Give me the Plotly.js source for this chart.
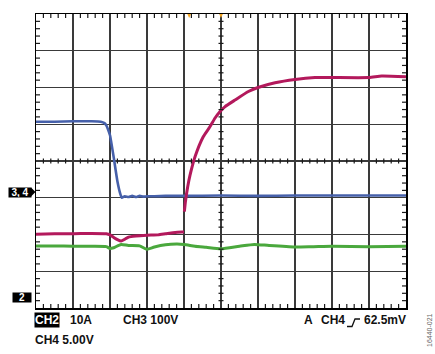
<!DOCTYPE html>
<html>
<head>
<meta charset="utf-8">
<script src="https://cdn.plot.ly/plotly-3.0.1.min.js"></script>
<style>html,body{margin:0;padding:0;background:#fff;}#chart{width:435px;height:354px;}</style>
</head>
<body>
<div id="chart"></div>
<script>
// ---- data (time and level in screen divisions) ----
const blueT = [0, 0.5, 1.0, 1.5, 1.75, 1.85, 1.9, 1.95, 2.0, 2.1, 2.2, 2.28, 2.32, 2.4, 2.5, 2.6, 2.7, 2.8, 2.9, 3.0, 3.2, 3.5, 4.0, 5.0, 6.0, 7.0, 8.0, 9.0, 10.0];
const blueV = [5.07, 5.07, 5.08, 5.08, 5.07, 5.03, 4.97, 4.85, 4.7, 4.1, 3.45, 3.1, 3.0, 3.04, 3.02, 3.05, 3.02, 3.05, 3.03, 3.04, 3.04, 3.05, 3.05, 3.06, 3.05, 3.06, 3.06, 3.06, 3.06];

const redT = [0, 0.5, 1.0, 1.5, 1.9, 2.0, 2.1, 2.2, 2.3, 2.4, 2.5, 2.7, 3.0, 3.3, 3.5, 3.7, 3.95, 4.0, null, 4.01, 4.04, 4.1, 4.16, 4.3, 4.52, 4.7, 4.84, 4.97, 5.11, 5.38, 5.74, 6.0, 6.46, 7.0, 7.54, 8.0, 9.0, 9.34, 10.0];
const redV = [2.01, 2.02, 2.02, 2.03, 2.02, 1.99, 1.92, 1.86, 1.82, 1.87, 1.93, 1.96, 1.98, 1.99, 2.02, 2.05, 2.07, 2.07, null, 2.62, 2.9, 3.3, 3.6, 4.12, 4.66, 4.93, 5.17, 5.34, 5.48, 5.66, 5.89, 6.0, 6.13, 6.22, 6.27, 6.27, 6.27, 6.31, 6.29];

const greenT = [0, 0.5, 1.0, 1.5, 1.9, 2.0, 2.1, 2.3, 2.5, 2.8, 3.0, 3.2, 3.5, 3.8, 4.0, 4.3, 4.6, 5.0, 5.5, 5.9, 6.3, 7.0, 7.5, 8.0, 9.0, 10.0];
const greenV = [1.69, 1.69, 1.68, 1.68, 1.67, 1.62, 1.64, 1.73, 1.70, 1.69, 1.60, 1.66, 1.72, 1.74, 1.73, 1.68, 1.65, 1.61, 1.68, 1.73, 1.70, 1.66, 1.67, 1.68, 1.67, 1.68];

const chLabels = ["CH2", "10A", "CH3 100V", "CH4 5.00V"];
const trigLabels = ["A", "CH4", "62.5mV"];
const markerLabels = ["3, 4", "2"];
const figId = "16440-021";

// ---- screen graticule (10 x 8 divisions, 5 subdivisions each) ----
const XDIV = 10, YDIV = 8, SUB = 5;
const TICK = '#1a1a1a';
const tickShapes = [];
[[YDIV, -4, 0], [YDIV / 2, -2.5, 2.5], [0, 0, 4]].forEach(([lvl, a, b]) => {
  for (let i = 1; i < XDIV * SUB; i++) {
    if (i % SUB === 0) continue;
    tickShapes.push({type: 'line', xref: 'x', yref: 'y', ysizemode: 'pixel', yanchor: lvl,
      x0: i / SUB, x1: i / SUB, y0: a, y1: b, line: {color: TICK, width: 1.2}, layer: 'above'});
  }
});
[[0, 0, 4], [XDIV / 2, -2.5, 2.5], [XDIV, -4, 0]].forEach(([lvl, a, b]) => {
  for (let i = 1; i < YDIV * SUB; i++) {
    if (i % SUB === 0) continue;
    tickShapes.push({type: 'line', xref: 'x', yref: 'y', xsizemode: 'pixel', xanchor: lvl,
      y0: i / SUB, y1: i / SUB, x0: a, x1: b, line: {color: TICK, width: 1.2}, layer: 'above'});
  }
});

const L = 36, T = 14, PW = 370, PH = 294;
const px = x => (x - L) / PW;
const py = y => (T + PH - y) / PH;

const traces = [
  {x: blueT, y: blueV, mode: 'lines', line: {color: '#4660aa', width: 2.6, shape: 'spline', smoothing: 0.4}, hoverinfo: 'skip'},
  {x: redT, y: redV, mode: 'lines', connectgaps: false, line: {color: '#b3195c', width: 3, shape: 'spline', smoothing: 0.5}, hoverinfo: 'skip'},
  {x: greenT, y: greenV, mode: 'lines', line: {color: '#4aa83d', width: 3, shape: 'spline', smoothing: 0.6}, hoverinfo: 'skip'}
];

const font = {family: 'Liberation Sans, Arial, sans-serif', size: 12, color: '#111'};
const bold = t => '<b>' + t + '</b>';

const annotations = [
  {xref: 'paper', yref: 'paper', x: px(34), y: py(319.5), xanchor: 'left', yanchor: 'middle', text: bold(chLabels[0]), showarrow: false, font: Object.assign({}, font, {color: '#fff'}), bgcolor: '#000', borderpad: 0},
  {xref: 'paper', yref: 'paper', x: px(68), y: py(319.5), xanchor: 'left', yanchor: 'middle', text: bold(chLabels[1]), showarrow: false, font: font},
  {xref: 'paper', yref: 'paper', x: px(121), y: py(319.5), xanchor: 'left', yanchor: 'middle', text: bold(chLabels[2]), showarrow: false, font: font},
  {xref: 'paper', yref: 'paper', x: px(33), y: py(339.5), xanchor: 'left', yanchor: 'middle', text: bold(chLabels[3]), showarrow: false, font: font},
  {xref: 'paper', yref: 'paper', x: px(302), y: py(319.5), xanchor: 'left', yanchor: 'middle', text: bold(trigLabels[0]), showarrow: false, font: font},
  {xref: 'paper', yref: 'paper', x: px(319), y: py(319.5), xanchor: 'left', yanchor: 'middle', text: bold(trigLabels[1]), showarrow: false, font: font},
  {xref: 'paper', yref: 'paper', x: px(408), y: py(319.5), xanchor: 'right', yanchor: 'middle', text: bold(trigLabels[2]), showarrow: false, font: font},
  {xref: 'paper', yref: 'paper', x: px(20), y: py(192), xanchor: 'center', yanchor: 'middle', text: bold(markerLabels[0]), showarrow: false, font: {family: 'Liberation Sans, Arial, sans-serif', size: 10, color: '#fff'}, bgcolor: '#000', borderpad: 0, width: 22, height: 9},
  {xref: 'paper', yref: 'paper', x: px(22), y: py(297), xanchor: 'center', yanchor: 'middle', text: bold(markerLabels[1]), showarrow: false, font: {family: 'Liberation Sans, Arial, sans-serif', size: 10, color: '#fff'}, bgcolor: '#000', borderpad: 0, width: 18, height: 9},
  {xref: 'paper', yref: 'paper', x: px(429), y: py(330), xanchor: 'center', yanchor: 'middle', text: figId, textangle: -90, showarrow: false, font: {family: 'Liberation Sans, Arial, sans-serif', size: 7, color: '#666'}}
];

const shapes = tickShapes.concat([
  {type: 'path', xref: 'paper', yref: 'paper', path: `M${px(31)},${py(187.5)} L${px(35.5)},${py(192)} L${px(31)},${py(196.5)} Z`, fillcolor: '#000', line: {width: 0}},
  {type: 'path', xref: 'paper', yref: 'paper', path: `M${px(347)},${py(326.5)} L${px(352)},${py(326.5)} L${px(355)},${py(319)} L${px(360)},${py(319)}`, line: {color: '#111', width: 1.3}},
  {type: 'path', xref: 'x', yref: 'paper', path: `M4.09,1 L4.19,1 L4.14,${py(18)} Z`, fillcolor: '#f5a623', line: {width: 0}},
  {type: 'path', xref: 'x', yref: 'paper', path: `M4.95,1 L5.05,1 L5.0,${py(18)} Z`, fillcolor: '#f5a623', line: {width: 0}}
]);

const axisBase = {dtick: 1, tick0: 0, showgrid: true, gridcolor: '#3a3a3a', gridwidth: 1.2, zeroline: false,
  showline: true, linecolor: '#000', linewidth: 1.5, mirror: true, ticks: '', showticklabels: false, fixedrange: true};

const layout = {
  width: 435, height: 354,
  margin: {l: L, r: 435 - L - PW, t: T, b: 354 - T - PH, pad: 0},
  paper_bgcolor: '#fff', plot_bgcolor: '#fff',
  showlegend: false,
  xaxis: Object.assign({range: [0, XDIV]}, axisBase),
  yaxis: Object.assign({range: [0, YDIV]}, axisBase),
  annotations: annotations,
  shapes: shapes
};

Plotly.newPlot('chart', traces, layout, {staticPlot: true, displayModeBar: false});
</script>
</body>
</html>
